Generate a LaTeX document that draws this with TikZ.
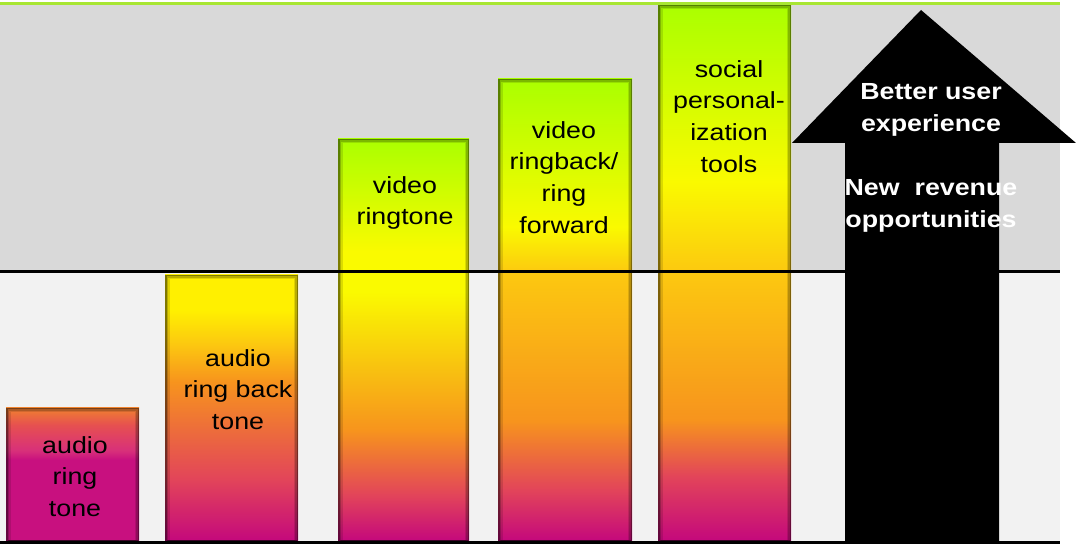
\documentclass[tikz,border=0pt]{standalone}
\usepackage{fontspec}
\newfontfamily\barfont[FakeStretch=1.15]{Liberation Sans}
\definecolor{uppergray}{HTML}{D9D9D9}
\definecolor{lowergray}{HTML}{F2F2F2}
\definecolor{topgreen}{HTML}{A8E632}
\definecolor{cgreen}{HTML}{AAFF00}
\definecolor{cyellow}{HTML}{FAFA00}
\definecolor{cyellowB}{HTML}{FFF000}
\definecolor{cgold}{HTML}{FCC810}
\definecolor{corange}{HTML}{F7941D}
\definecolor{cpink}{HTML}{E2445A}
\definecolor{cmag}{HTML}{C4087C}
\definecolor{ctop}{HTML}{F08030}
\definecolor{cpink2}{HTML}{E65050}
\definecolor{cmag2}{HTML}{D8307A}
\definecolor{cmag3}{HTML}{C8107F}
% vertical shadings: path bottom = 25bp, path top = 75bp
\pgfdeclareverticalshading{shA}{100bp}{color(0bp)=(cmag3); color(25bp)=(cmag3); color(55.5bp)=(cmag3); color(59bp)=(cmag2); color(68.6bp)=(cpink2); color(75bp)=(ctop); color(100bp)=(ctop)}
\pgfdeclareverticalshading{shB}{100bp}{color(0bp)=(cmag); color(25bp)=(cmag); color(36.5bp)=(cpink); color(55bp)=(corange); color(62bp)=(cgold); color(68.4bp)=(cyellowB); color(75bp)=(cyellowB); color(100bp)=(cyellowB)}
\pgfdeclareverticalshading{shC}{100bp}{color(0bp)=(cmag); color(25bp)=(cmag); color(30.7bp)=(cpink); color(38.8bp)=(corange); color(56bp)=(cyellow); color(61bp)=(cyellow); color(75bp)=(cgreen); color(100bp)=(cgreen)}
\pgfdeclareverticalshading{shD}{100bp}{color(0bp)=(cmag); color(25bp)=(cmag); color(30.5bp)=(cpink); color(38bp)=(corange); color(54bp)=(cgold); color(59bp)=(cyellow); color(75bp)=(cgreen); color(100bp)=(cgreen)}
\pgfdeclareverticalshading{shE}{100bp}{color(0bp)=(cmag); color(25bp)=(cmag); color(31bp)=(cpink); color(36.3bp)=(corange); color(50bp)=(cgold); color(58.5bp)=(cyellow); color(75bp)=(cgreen); color(100bp)=(cgreen)}
\newcommand\mybar[4]{% shading, x1, x2, top
  \path[shading=#1] (#2,4) rectangle (#3,#4);
  \draw[black,opacity=.5,line width=1.5pt] ({#2+0.75},4) rectangle ({#3-0.75},{#4-0.75});
  \draw[black,opacity=.28,line width=1.5pt] ({#2+2.25},4) rectangle ({#3-2.25},{#4-2.25});
  \draw[black,opacity=.12,line width=1.5pt] ({#2+3.75},4) rectangle ({#3-3.75},{#4-3.75});
}
\begin{document}
\begin{tikzpicture}[x=1pt,y=1pt,
  lbl/.style={font=\fontsize{23.3}{31.7}\selectfont\barfont, align=center, inner sep=0pt, anchor=north, text=black},
  albl/.style={font=\fontsize{23.3}{32}\selectfont\barfont\bfseries, align=center, inner sep=0pt, anchor=north, text=white},
  rule/.style={line width=3pt}]
\useasboundingbox (0,0) rectangle (1076,545);
\fill[white] (0,0) rectangle (1076,545);
% backgrounds
\fill[uppergray] (0,273) rectangle (1060,541);
\fill[lowergray] (0,3) rectangle (1060,273);
% bars
\mybar{shA}{6}{139}{137}
\mybar{shB}{165}{298}{270}
\mybar{shC}{338}{469}{406}
\mybar{shD}{498}{632}{466}
\mybar{shE}{658}{791}{540}
% arrow
\fill[black] (845,4) -- (845,402) -- (792,402) -- (921,535) -- (1076,402) -- (999,402) -- (999,4) -- cycle;
% rules
\draw[rule,topgreen] (0,541.5) -- (1060,541.5);
\draw[rule,black] (0,273) -- (1060,273);
\draw[rule,black] (0,2.5) -- (1060,2.5);
% labels
\node[lbl] (t1) at (75,114) {\rule{0pt}{22pt}audio\\ring\\tone};
\node[lbl] (t2) at (238,201) {\rule{0pt}{22pt}audio\\ring back\\tone};
\node[lbl] (t3) at (405,374) {\rule{0pt}{22pt}video\\ringtone};
\node[lbl] (t4) at (564,429) {\rule{0pt}{22pt}video\\ringback/\\ring\\forward};
\node[lbl] (t5) at (729,490) {\rule{0pt}{22pt}social\\personal-\\ization\\tools};
\node[albl] (a1) at (931,468) {\rule{0pt}{22pt}Better user\\experience};
\node[albl] (a2) at (931,372) {\rule{0pt}{22pt}New\ \ revenue\\opportunities};
\end{tikzpicture}
\end{document}
